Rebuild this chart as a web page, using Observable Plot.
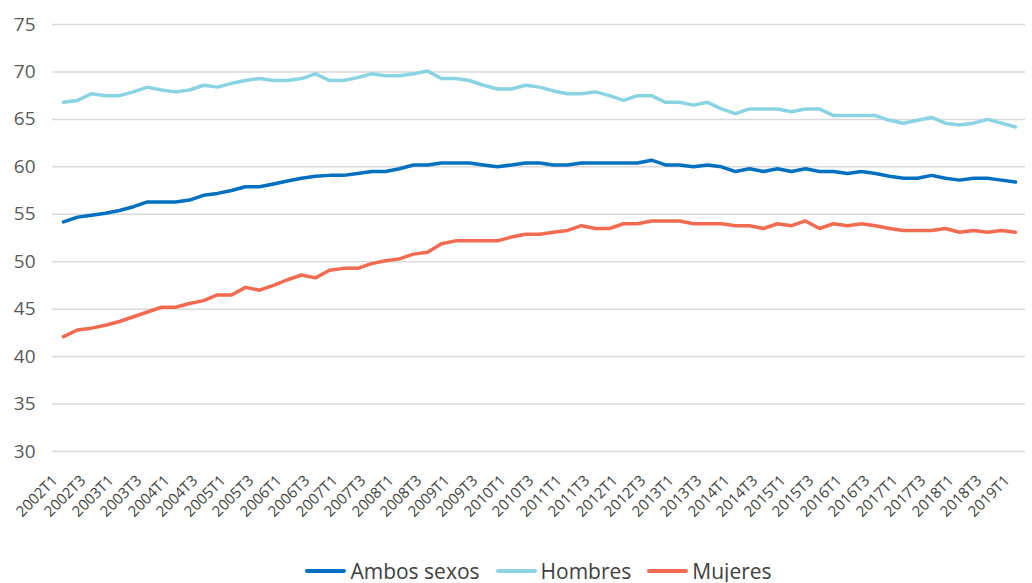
<!DOCTYPE html>
<html><head><meta charset="utf-8">
<script src="https://cdn.jsdelivr.net/npm/d3@7"></script>
<script src="https://cdn.jsdelivr.net/npm/@observablehq/plot@0.6"></script>
<style>
body{margin:0;background:#fff;font-family:"Open Sans",sans-serif;overflow:hidden;}
#chart svg{display:block;}
#legend{display:flex;justify-content:center;align-items:center;height:22px;padding:15px 7px 0 52px;font-size:21px;color:#404040;line-height:22px;}
.item{display:flex;align-items:center;margin:0 8px;}
.sw{width:41px;height:4px;margin-right:4px;border-radius:2px;}
</style></head><body>
<div id="chart"></div>
<div id="legend"></div>
<script>
const quarters = ["2002T1","2002T2","2002T3","2002T4","2003T1","2003T2","2003T3","2003T4","2004T1","2004T2","2004T3","2004T4","2005T1","2005T2","2005T3","2005T4","2006T1","2006T2","2006T3","2006T4","2007T1","2007T2","2007T3","2007T4","2008T1","2008T2","2008T3","2008T4","2009T1","2009T2","2009T3","2009T4","2010T1","2010T2","2010T3","2010T4","2011T1","2011T2","2011T3","2011T4","2012T1","2012T2","2012T3","2012T4","2013T1","2013T2","2013T3","2013T4","2014T1","2014T2","2014T3","2014T4","2015T1","2015T2","2015T3","2015T4","2016T1","2016T2","2016T3","2016T4","2017T1","2017T2","2017T3","2017T4","2018T1","2018T2","2018T3","2018T4","2019T1"];
const seriesNames = ["Ambos sexos","Hombres","Mujeres"];
const seriesColors = ["#0070C0","#89D3E3","#F26B50"];
const ambos = [54.2,54.7,54.9,55.1,55.4,55.8,56.3,56.3,56.3,56.5,57.0,57.2,57.5,57.9,57.9,58.2,58.5,58.8,59.0,59.1,59.1,59.3,59.5,59.5,59.8,60.2,60.2,60.4,60.4,60.4,60.2,60.0,60.2,60.4,60.4,60.2,60.2,60.4,60.4,60.4,60.4,60.4,60.7,60.2,60.2,60.0,60.2,60.0,59.5,59.8,59.5,59.8,59.5,59.8,59.5,59.5,59.3,59.5,59.3,59.0,58.8,58.8,59.1,58.8,58.6,58.8,58.8,58.6,58.4];
const hombres = [66.8,67.0,67.7,67.5,67.5,67.9,68.4,68.1,67.9,68.1,68.6,68.4,68.8,69.1,69.3,69.1,69.1,69.3,69.8,69.1,69.1,69.4,69.8,69.6,69.6,69.8,70.1,69.3,69.3,69.1,68.6,68.2,68.2,68.6,68.4,68.0,67.7,67.7,67.9,67.5,67.0,67.5,67.5,66.8,66.8,66.5,66.8,66.1,65.6,66.1,66.1,66.1,65.8,66.1,66.1,65.4,65.4,65.4,65.4,64.9,64.6,64.9,65.2,64.6,64.4,64.6,65.0,64.6,64.2];
const mujeres = [42.1,42.8,43.0,43.3,43.7,44.2,44.7,45.2,45.2,45.6,45.9,46.5,46.5,47.3,47.0,47.5,48.1,48.6,48.3,49.1,49.3,49.3,49.8,50.1,50.3,50.8,51.0,51.9,52.2,52.2,52.2,52.2,52.6,52.9,52.9,53.1,53.3,53.8,53.5,53.5,54.0,54.0,54.3,54.3,54.3,54.0,54.0,54.0,53.8,53.8,53.5,54.0,53.8,54.3,53.5,54.0,53.8,54.0,53.8,53.5,53.3,53.3,53.3,53.5,53.1,53.3,53.1,53.3,53.1];
const yTicks = [30,35,40,45,50,55,60,65,70,75];
const xTickLabels = quarters.filter((d,i)=>i%2===0);

const valuesBySeries = [ambos, hombres, mujeres];
const data = [];
seriesNames.forEach((s,k)=>{
  valuesBySeries[k].forEach((v,i)=>data.push({q:quarters[i], v, s}));
});

const chart = Plot.plot({
  width:1032, height:545,
  marginLeft:52, marginRight:7, marginTop:24, marginBottom:94,
  style:{fontFamily:"'Open Sans',sans-serif", background:"#fff"},
  x:{type:"point", domain:quarters, padding:0.5, label:null, axis:null},
  y:{domain:[30,75], label:null, axis:null},
  color:{domain:seriesNames, range:seriesColors},
  marks:[
    Plot.ruleY(yTicks,{stroke:"#d9d9d9",strokeWidth:1.5}),
    Plot.text(yTicks,{y:d=>d, text:d=>String(d), frameAnchor:"left", textAnchor:"end", dx:-17, fontSize:19, fill:"#595959"}),
    Plot.text(xTickLabels,{x:d=>d, text:d=>d, frameAnchor:"bottom", rotate:-45, textAnchor:"end", dx:-5, dy:30, fontSize:15, fill:"#404040"}),
    Plot.line(data,{x:"q", y:"v", stroke:"s", z:"s", strokeWidth:3.5, strokeLinejoin:"round"})
  ]
});
document.getElementById("chart").appendChild(chart);

const legend = document.getElementById("legend");
seriesNames.forEach((s,k)=>{
  const it = document.createElement("div"); it.className="item";
  const sw = document.createElement("div"); sw.className="sw"; sw.style.background=seriesColors[k];
  const t = document.createElement("span"); t.textContent=s;
  it.appendChild(sw); it.appendChild(t); legend.appendChild(it);
});
</script>
</body></html>
